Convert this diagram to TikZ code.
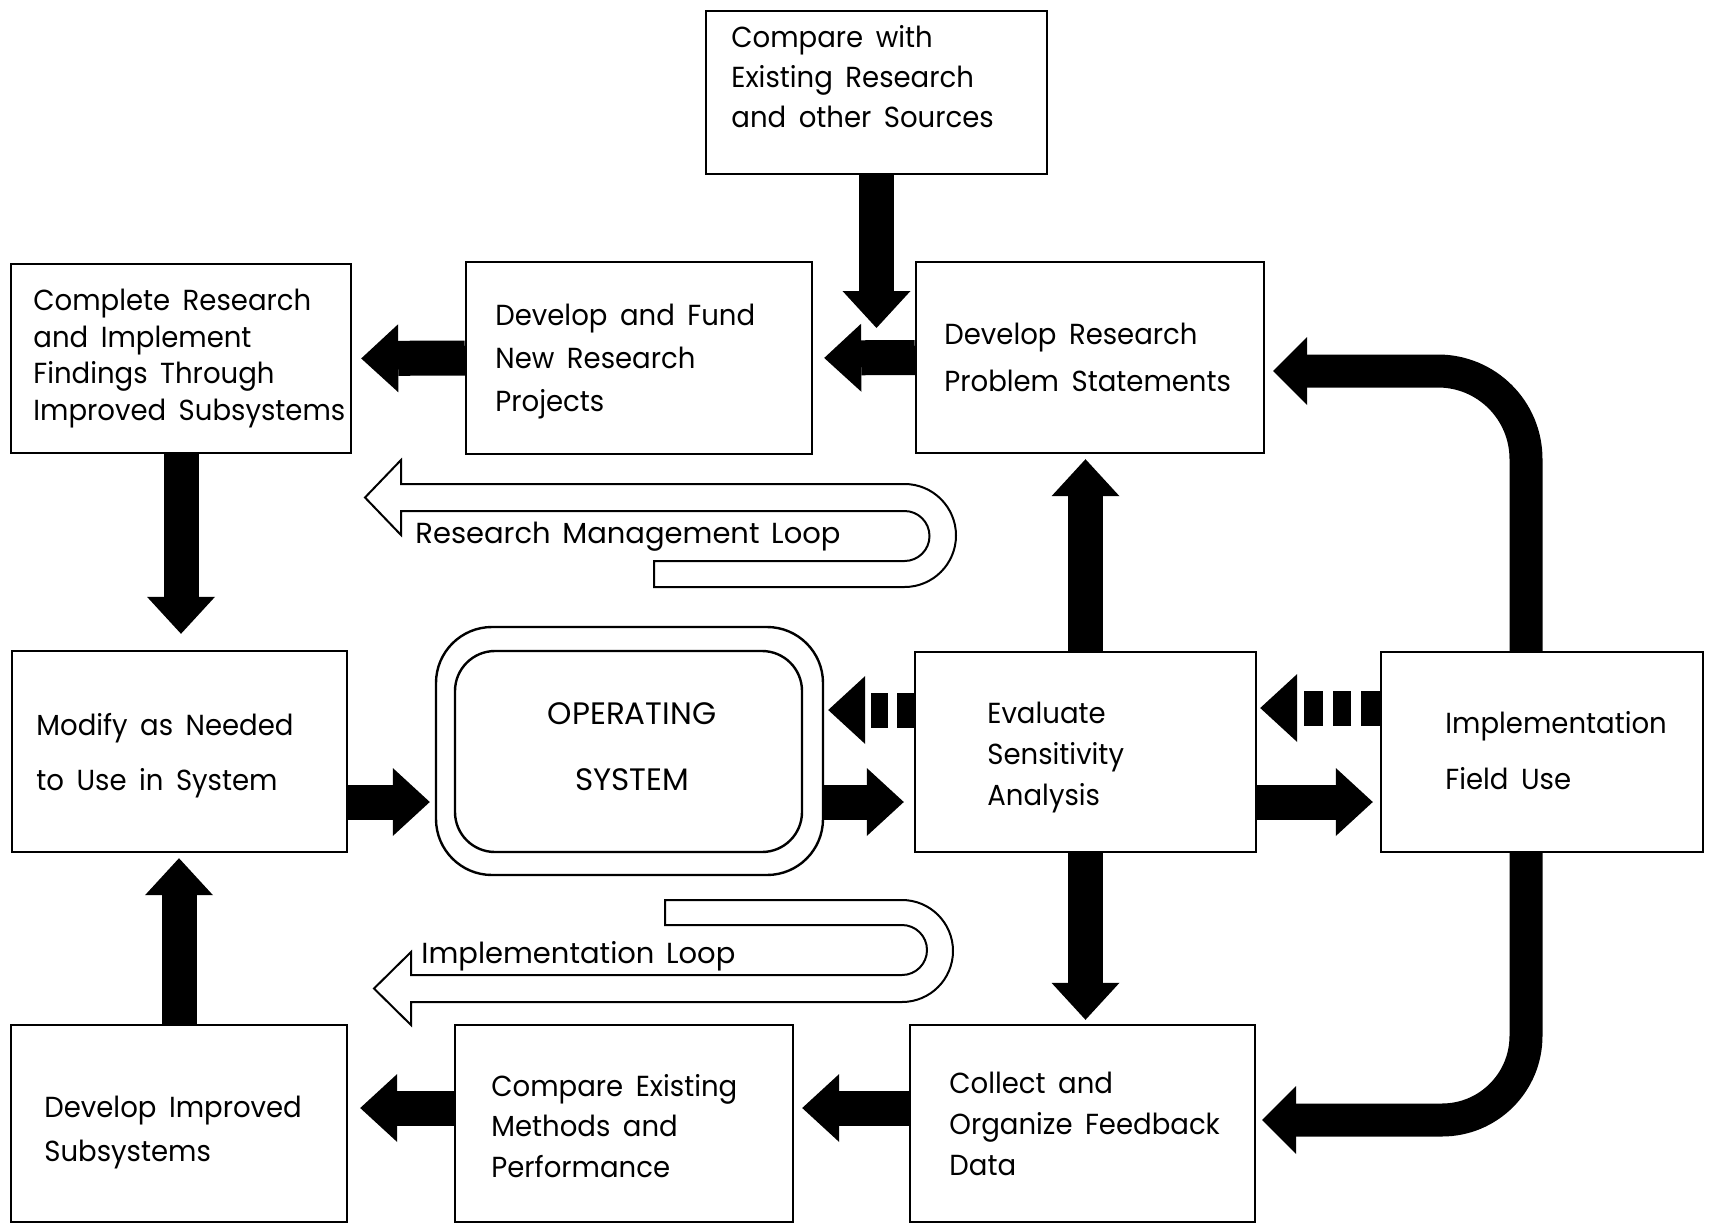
\documentclass[tikz,border=0pt]{standalone}
\usepackage{fontspec}
\setmainfont{Poppins}[WordSpace=1.5]
\newfontfamily\bxf{Poppins}[FakeStretch=0.95, WordSpace=1.7]
\usetikzlibrary{arrows.meta}
\newcommand\myfs[1]{\fontsize{14.5}{#1}\selectfont}
\newcommand\bxfs[1]{\bxf\fontsize{14.5}{#1}\selectfont}
\begin{document}
\begin{tikzpicture}[x=0.5pt,y=-0.5pt,
  box/.style={draw, line width=1.2pt, rectangle, inner sep=0pt},
  lbl/.style={anchor=west, align=left, inner sep=0pt},
  blk/.style={line width=17.5pt, -{Triangle[width=34pt,length=18.5pt,line width=0pt]}},
  cblk/.style={line width=16.5pt, -{Triangle[width=34pt,length=17pt,line width=0pt]}},
  hollow/.style={draw, line width=1pt, line join=miter}
]
\fill[white] (0,0) rectangle (1710,1227);
\useasboundingbox (0,0) rectangle (1710,1227);

% boxes
\node[box, minimum width=170.5pt, minimum height=81.5pt] (cw) at (876.5,92.5) {};
\node[box, minimum width=170pt, minimum height=94.5pt] (comp) at (181,358.5) {};
\node[box, minimum width=173pt, minimum height=96pt] (fund) at (639,358) {};
\node[box, minimum width=174pt, minimum height=95.5pt] (dres) at (1090,357.5) {};
\node[box, minimum width=167.5pt, minimum height=100.5pt] (mod) at (179.5,751.5) {};
\node[box, rounded corners=28pt, minimum width=193.5pt, minimum height=124pt] (op) at (629.5,751) {};
\node[box, rounded corners=20pt, minimum width=173.5pt, minimum height=100.5pt] (opin) at (628.5,751.5) {};
\node[box, minimum width=170.5pt, minimum height=100pt] (eval) at (1085.5,752) {};
\node[box, minimum width=161pt, minimum height=100pt] (impl) at (1542,752) {};
\node[box, minimum width=168pt, minimum height=98.5pt] (dimp) at (179,1123.5) {};
\node[box, minimum width=169pt, minimum height=98.5pt] (cex) at (624,1123.5) {};
\node[box, minimum width=172.5pt, minimum height=98.5pt] (coll) at (1082.5,1123.5) {};

% texts
\node[lbl, font=\bxfs{20pt}] (cwt) at (731,77) {Compare with\\Existing Research\\and other Sources};
\node[lbl, font=\bxfs{18.3pt}] (compt) at (33,358.5) {Complete Research\\and Implement\\Findings Through\\Improved Subsystems};
\node[lbl, font=\bxfs{21.7pt}] (fundt) at (495,361.5) {Develop and Fund\\New Research\\Projects};
\node[lbl, font=\bxfs{23.5pt}] (drest) at (944,357.5) {Develop Research\\Problem Statements};
\node[lbl, font=\bxfs{27.5pt}] (modt) at (36,756) {Modify as Needed\\to Use in System};
\node[lbl, font=\bxfs{20.5pt}] (evalt) at (987,757.5) {Evaluate\\Sensitivity\\Analysis};
\node[lbl, font=\bxfs{28pt}] (implt) at (1445,751) {Implementation\\Field Use};
\node[lbl, font=\bxfs{22pt}] (dimpt) at (44,1132.5) {Develop Improved\\Subsystems};
\node[lbl, font=\bxfs{20.3pt}] (cext) at (491,1126) {Compare Existing\\Methods and\\Performance};
\node[lbl, font=\bxfs{20.5pt}] (collt) at (949,1124) {Collect and\\Organize Feedback\\Data};
\node[align=center, inner sep=0pt, font=\fontsize{15.5}{33pt}\selectfont] (optext) at (632,747) {OPERATING\\SYSTEM};

% loops
\draw[hollow] (654,587) -- (700,587) [rounded corners=25.75pt] -- (956,587) -- (956,484) -- (800,484) [sharp corners] -- (401,484) -- (401,460) -- (365,497.5) -- (401,535) -- (401,511) -- (600,511) [rounded corners=12.5pt] -- (929.5,511) -- (929.5,561) -- (800,561) [sharp corners] -- (654,561) -- cycle;
\node[anchor=base west, inner sep=0pt, font=\myfs{18pt}] (rml) at (415,543) {Research Management Loop};

\draw[hollow] (665,900) -- (700,900) [rounded corners=25.5pt] -- (953,900) -- (953,1002) -- (800,1002) [sharp corners] -- (411,1002) -- (411,1025) -- (374,988.5) -- (411,952) -- (411,975) -- (600,975) [rounded corners=12.5pt] -- (927,975) -- (927,925) -- (800,925) [sharp corners] -- (665,925) -- cycle;
\node[anchor=base west, inner sep=0pt, font=\myfs{18pt}] (il) at (421,963) {Implementation Loop};

% connectors
\coordinate (cwend) at (876.5,328);
\draw[blk] (cw.south) -- (cwend);
\draw[blk, shorten >=5.5pt] (dres.west) -- (fund.east);
\draw[blk, shorten >=4.5pt] (fund.west) -- (comp.east);
\draw[blk, shorten >=8pt] (comp.south) -- (comp.south |- mod.north);
\draw[blk, shorten >=2.5pt] (dimp.north) -- (dimp.north |- mod.south);
\draw[blk, shorten >=2.5pt] (mod.east |- 0,802) -- (op.west |- 0,802);
\draw[blk, shorten >=5pt] (op.east |- 0,802) -- (eval.west |- 0,802);
\draw[blk, shorten >=3.5pt] (eval.east |- 0,802) -- (impl.west |- 0,802);
\draw[blk, shorten >=2.5pt] (eval.north) -- (eval.north |- dres.south);
\draw[blk, shorten >=2pt] (eval.south) -- (eval.south |- coll.north);
\draw[blk, shorten >=4pt] (coll.west |- 0,1108) -- (cex.east |- 0,1108);
\draw[blk, shorten >=6pt] (cex.west |- 0,1108) -- (dimp.east |- 0,1108);
\draw[cblk, rounded corners=44pt, shorten >=4pt] ([xshift=-8pt]impl.north) |- (dres.east |- 0,371);
\draw[cblk, rounded corners=42pt, shorten >=3pt] ([xshift=-8pt]impl.south) |- (coll.east |- 0,1120);
\draw[blk, dash pattern=on 8.5pt off 4.5pt, shorten >=2pt] (eval.west |- 0,710) -- (op.east |- 0,710);
\draw[blk, dash pattern=on 9.3pt off 5pt, shorten >=1.5pt] (impl.west |- 0,708) -- (eval.east |- 0,708);
\end{tikzpicture}
\end{document}
